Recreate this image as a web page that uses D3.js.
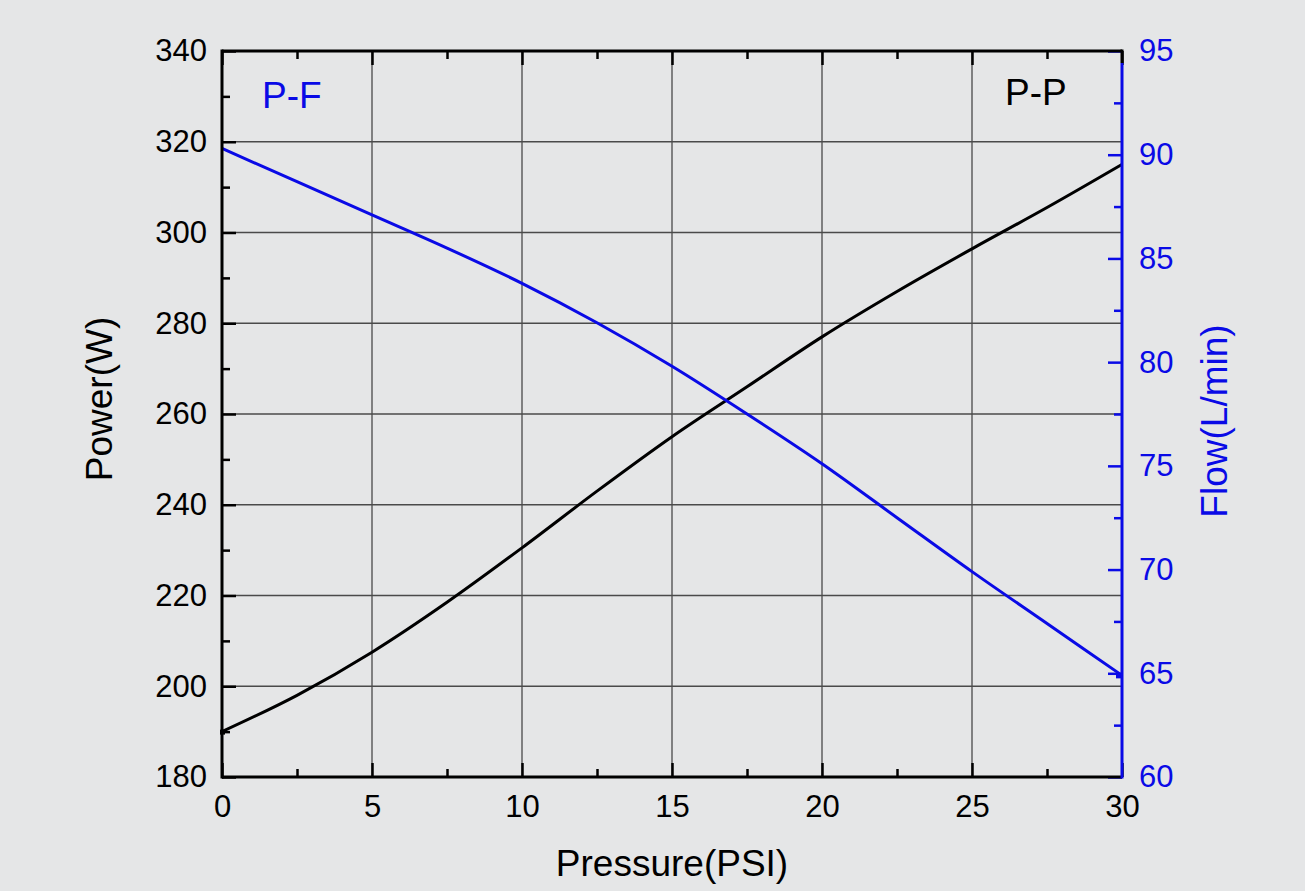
<!DOCTYPE html>
<html><head><meta charset="utf-8">
<script src="https://cdn.jsdelivr.net/npm/d3@7"></script>
<style>
html,body{margin:0;padding:0;background:#e5e6e7;}
svg{display:block;font-family:"Liberation Sans",Arial,sans-serif;}
</style></head>
<body>
<svg id="c" width="1305" height="891"></svg>
<script>
const pressure = [0, 2.5, 5, 7.5, 10, 12.5, 15, 17.5, 20, 22.5, 25, 27.5, 30];
const power    = [190, 198, 207.5, 218.5, 230.5, 243, 255, 266, 277, 287, 296.4, 305.5, 315];
const flow     = [90.3, 88.7, 87.1, 85.5, 83.8, 81.9, 79.8, 77.5, 75.1, 72.5, 69.9, 67.4, 64.9];
const xTicks = [0, 5, 10, 15, 20, 25, 30];
const powerTicks = [180, 200, 220, 240, 260, 280, 300, 320, 340];
const flowTicks = [60, 65, 70, 75, 80, 85, 90, 95];

const svg = d3.select("#c");
const L = 222, R = 1122, T = 51, B = 777;
const x = d3.scaleLinear().domain([0, 30]).range([L, R]);
const yL = d3.scaleLinear().domain([180, 340]).range([B, T]);
const yR = d3.scaleLinear().domain([60, 95]).range([B, T]);
const blue = "#0a0ae6";
const FONT = '"Liberation Sans",Arial,sans-serif';

// grid
const g = svg.append("g");
g.selectAll(".gx").data(xTicks.slice(1, -1)).join("line")
  .attr("x1", d => x(d)).attr("x2", d => x(d)).attr("y1", T).attr("y2", B)
  .attr("stroke", "#4a4a4a").attr("stroke-width", 1.3);
g.selectAll(".gy").data(powerTicks.slice(1, -1)).join("line")
  .attr("y1", d => yL(d)).attr("y2", d => yL(d)).attr("x1", L).attr("x2", R)
  .attr("stroke", "#4a4a4a").attr("stroke-width", 1.3);

// curves
const lineP = d3.line().x((d, i) => x(pressure[i])).y(d => yL(d)).curve(d3.curveMonotoneX);
const lineF = d3.line().x((d, i) => x(pressure[i])).y(d => yR(d)).curve(d3.curveMonotoneX);
svg.append("path").attr("d", lineP(power)).attr("fill", "none").attr("stroke", "#000").attr("stroke-width", 3);
svg.append("path").attr("d", lineF(flow)).attr("fill", "none").attr("stroke", blue).attr("stroke-width", 3);

// axes with inward ticks
function minorize(arr) { const m = []; for (let i = 0; i < arr.length - 1; i++) m.push((arr[i] + arr[i + 1]) / 2); return m; }
const axB = svg.append("g").attr("transform", `translate(0,${B})`)
  .call(d3.axisBottom(x).tickValues(xTicks).tickSize(-14).tickPadding(18).tickFormat(d3.format("d")));
const axBm = svg.append("g").attr("transform", `translate(0,${B})`)
  .call(d3.axisBottom(x).tickValues(minorize(xTicks)).tickSize(-8).tickFormat(""));
const axT = svg.append("g").attr("transform", `translate(0,${T})`)
  .call(d3.axisTop(x).tickValues(xTicks).tickSize(-14).tickFormat(""));
const axTm = svg.append("g").attr("transform", `translate(0,${T})`)
  .call(d3.axisTop(x).tickValues(minorize(xTicks)).tickSize(-8).tickFormat(""));
const axL = svg.append("g").attr("transform", `translate(${L},0)`)
  .call(d3.axisLeft(yL).tickValues(powerTicks).tickSize(-14).tickPadding(15));
const axLm = svg.append("g").attr("transform", `translate(${L},0)`)
  .call(d3.axisLeft(yL).tickValues(minorize(powerTicks)).tickSize(-8).tickFormat(""));
const axR = svg.append("g").attr("transform", `translate(${R},0)`)
  .call(d3.axisRight(yR).tickValues(flowTicks).tickSize(-14).tickPadding(17));
const axRm = svg.append("g").attr("transform", `translate(${R},0)`)
  .call(d3.axisRight(yR).tickValues(minorize(flowTicks)).tickSize(-8).tickFormat(""));

[axB, axBm, axT, axTm, axL, axLm].forEach(a => {
  a.selectAll(".tick line").attr("stroke", "#000").attr("stroke-width", 2.5);
  a.selectAll(".tick text").attr("fill", "#000").style("font-size", "31px").style("font-family", FONT);
});
[axR, axRm].forEach(a => {
  a.selectAll(".tick line").attr("stroke", blue).attr("stroke-width", 2.5);
  a.selectAll(".tick text").attr("fill", blue).style("font-size", "31px").style("font-family", FONT);
});
[axB, axBm, axT, axTm, axL, axLm, axR, axRm].forEach(a => a.select("path.domain").remove());
svg.append("line").attr("x1", L).attr("x2", R).attr("y1", T).attr("y2", T).attr("stroke", "#000").attr("stroke-width", 3);
svg.append("line").attr("x1", L).attr("x2", R).attr("y1", B).attr("y2", B).attr("stroke", "#000").attr("stroke-width", 3);
svg.append("line").attr("x1", L).attr("x2", L).attr("y1", T - 1.5).attr("y2", B + 1.5).attr("stroke", "#000").attr("stroke-width", 3);
svg.append("line").attr("x1", R).attr("x2", R).attr("y1", T + 12).attr("y2", B + 1.5).attr("stroke", blue).attr("stroke-width", 3);
svg.append("line").attr("x1", R).attr("x2", R).attr("y1", T - 1.5).attr("y2", T + 12).attr("stroke", "#000").attr("stroke-width", 3);

// end markers
svg.append("rect").attr("x", x(pressure[0]) - 2).attr("y", yL(power[0]) - 2).attr("width", 5).attr("height", 5).attr("fill", "#000");
svg.append("rect").attr("x", x(pressure[pressure.length - 1]) - 6).attr("y", yR(flow[flow.length - 1]) - 2).attr("width", 6).attr("height", 5).attr("fill", blue);

// titles
svg.append("text").attr("x", x(15)).attr("y", 876).attr("text-anchor", "middle")
  .style("font-size", "37px").attr("fill", "#000").text("Pressure(PSI)");
svg.append("text").attr("transform", `translate(112,399) rotate(-90)`).attr("text-anchor", "middle")
  .style("font-size", "37px").attr("fill", "#000").text("Power(W)");
svg.append("text").attr("transform", `translate(1227,421) rotate(-90)`).attr("text-anchor", "middle")
  .style("font-size", "37px").attr("fill", blue).text("Flow(L/min)");

svg.append("text").attr("x", 262).attr("y", 108).style("font-size", "37px").attr("fill", blue).text("P-F");
svg.append("text").attr("x", 1005).attr("y", 105).style("font-size", "37px").attr("fill", "#000").text("P-P");
</script>
</body></html>
